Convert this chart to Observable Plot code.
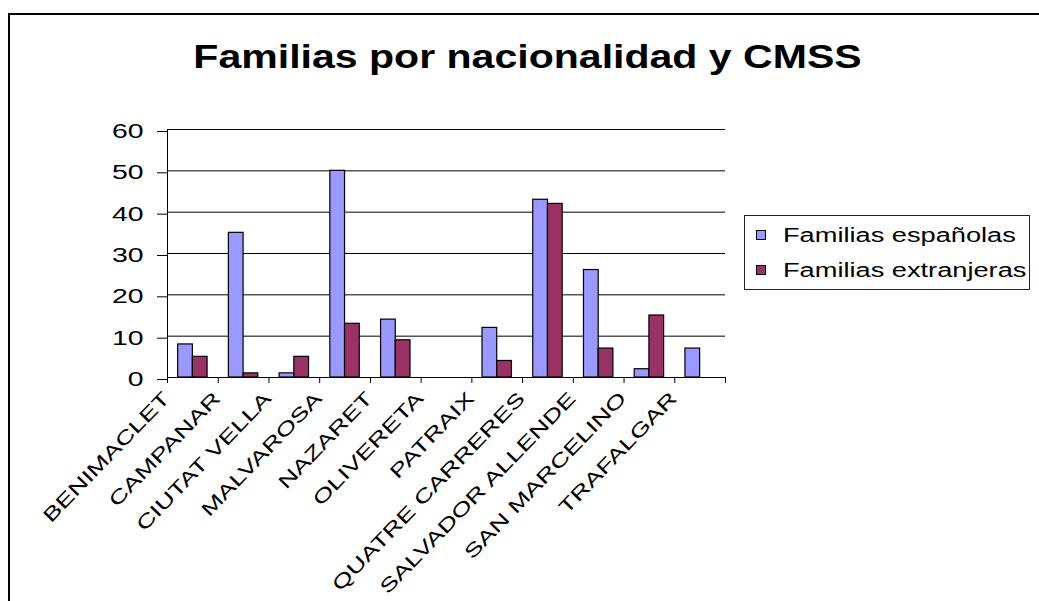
<!DOCTYPE html>
<html>
<head>
<meta charset="utf-8">
<script src="https://cdn.jsdelivr.net/npm/d3@7"></script>
<script src="https://cdn.jsdelivr.net/npm/@observablehq/plot@0.6"></script>
<style>
  html, body { margin: 0; padding: 0; background: #fff; overflow: hidden; }
  #wrap { position: relative; width: 1039px; height: 601px; overflow: hidden; font-family: Arial, "Liberation Sans", sans-serif; color: #000; }
  #frame { position: absolute; left: 8px; top: 13px; width: 1200px; height: 800px; border-left: 2px solid #000; border-top: 2px solid #000; box-sizing: border-box; }
  #chart { position: absolute; left: 0; top: 0; }
  #title { position: absolute; left: 7.5px; top: 41px; width: 1039px; text-align: center; font-weight: bold; font-size: 32.6px; line-height: 32.6px; white-space: nowrap; transform: scaleX(1.26); transform-origin: 50% 0; }
  #legend { position: absolute; left: 744px; top: 215px; width: 286px; height: 75px; border: 1px solid #222; box-sizing: border-box; background: #fff; }
  .item { position: absolute; left: 0; height: 20px; white-space: nowrap; }
  .sw { position: absolute; left: 11px; width: 10px; height: 10px; border: 1px solid #000; box-sizing: border-box; }
  .lab { position: absolute; left: 38px; top: 0; font-size: 20px; line-height: 20px; transform: scaleX(1.36); transform-origin: 0 0; }
</style>
</head>
<body>
<div id="wrap">
  <div id="frame"></div>
  <div id="chart"></div>
  <div id="title">Familias por nacionalidad y CMSS</div>
  <div id="legend"></div>
</div>
<script>
// ---- data ----
const categories = ["BENIMACLET", "CAMPANAR", "CIUTAT VELLA", "MALVAROSA", "NAZARET", "OLIVERETA", "PATRAIX", "QUATRE CARRERES", "SALVADOR ALLENDE", "SAN MARCELINO", "TRAFALGAR"];
const espanolas = [8, 35, 1, 50, 14, null, 12, 43, 26, 2, 7];
const extranjeras = [5, 1, 5, 13, 9, null, 4, 42, 7, 15, null];
const seriesNames = ["Familias españolas", "Familias extranjeras"];
const seriesColors = ["#9999FF", "#993366"];
const yTicks = [0, 10, 20, 30, 40, 50, 60];

// ---- layout constants ----
const barStart = 0.21, barMid = 0.5, barEnd = 0.79;

const rows = categories.map((c, i) => ({ i, c, esp: espanolas[i], ext: extranjeras[i] }));
const boundaries = d3.range(categories.length + 1);

const chart = Plot.plot({
  width: 1039,
  height: 601,
  marginLeft: 167,
  marginRight: 314,
  marginTop: 129,
  marginBottom: 224,
  x: { domain: [0, categories.length], axis: null },
  y: { domain: [0, 60], axis: null },
  style: { fontFamily: 'Arial, "Liberation Sans", sans-serif', fontSize: "20px", background: "transparent", color: "#000" },
  marks: [
    Plot.ruleY(yTicks.filter(v => v > 0), { stroke: "#000", strokeWidth: 1 }),
    Plot.rect(rows.filter(d => d.esp != null), {
      x1: d => d.i + barStart, x2: d => d.i + barMid, y1: 0, y2: "esp",
      fill: seriesColors[0], stroke: "#000", strokeWidth: 1.2
    }),
    Plot.rect(rows.filter(d => d.ext != null), {
      x1: d => d.i + barMid, x2: d => d.i + barEnd, y1: 0, y2: "ext",
      fill: seriesColors[1], stroke: "#000", strokeWidth: 1.2
    }),
    Plot.ruleX([0], { y1: 0, y2: 60, stroke: "#000" }),
    Plot.ruleY([0], { stroke: "#000" }),
    Plot.axisY({ ticks: yTicks, tickSize: 10, tickPadding: 14, fontSize: 20, dy: 2, tickFormat: d => String(d), anchor: "left", ariaLabel: "yaxis" }),
    Plot.axisX({ ticks: boundaries, tickSize: 6, tickFormat: () => "", anchor: "bottom" }),
    Plot.text(rows, {
      x: d => d.i + 0.5, y: 0, text: "c",
      rotate: -46, textAnchor: "end", lineAnchor: "bottom",
      dx: -22, dy: 22, fontSize: 19, ariaLabel: "catlabels"
    })
  ]
});
document.getElementById("chart").appendChild(chart);

// Stretch glyphs horizontally along their baseline to match the wide rendering of the original
chart.querySelectorAll("text").forEach(t => {
  const g = t.closest("g[aria-label]");
  const lab = g ? g.getAttribute("aria-label") : "";
  const s = 1.42;
  const x0 = parseFloat(t.getAttribute("x")) || 0;
  const tr = t.getAttribute("transform") || "";
  t.setAttribute("transform", `${tr} translate(${x0},0) scale(${s},1) translate(${-x0},0)`);
});

// ---- legend ----
const legend = d3.select("#legend");
seriesNames.forEach((name, k) => {
  const item = legend.append("div").attr("class", "item").style("top", `${9 + k * 35}px`).style("width", "100%");
  item.append("div").attr("class", "sw").style("top", `5px`).style("background", seriesColors[k]);
  item.append("div").attr("class", "lab").text(name);
});
</script>
</body>
</html>
